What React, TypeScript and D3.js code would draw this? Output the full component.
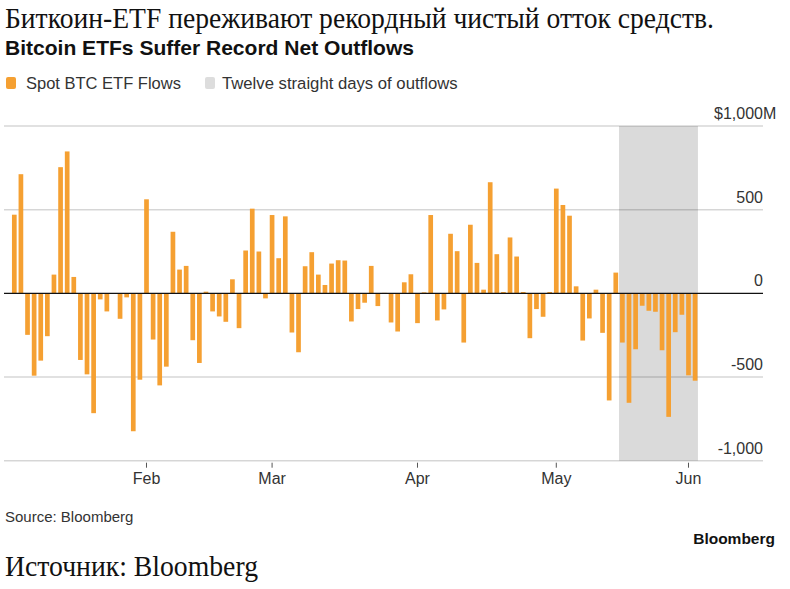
import React from "react";
import * as d3 from "d3";

// Daily net flows, $M (one bar per trading day)
const flows: number[] = [
  470, 712, -248, -492, -402, -256, 112, 754, 848, 98,
  -398, -484, -716, -36, -108, 0, -152, -24, -824, -516,
  562, -276, -550, -438, 368, 142, 164, -280, -416, 10,
  -108, -138, -170, 84, -208, 256, 506, 250, -30, 468,
  210, 460, -234, -352, 162, 246, 112, 50, 178, 198,
  196, -168, -94, -56, 164, -76, 3, -174, -228, 66,
  114, -178, 6, 468, -162, -96, 356, 252, -294, 410,
  182, 22, 664, 234, 8, 334, 220, 8, -268, -94,
  -140, 8, 626, 528, 464, 42, -282, -150, 22, -236,
  -640, 124, -294, -654, -334, -74, -104, -110, -340, -738,
  -232, -128, -490, -522,
];

// Month ticks: label + bar index of the first trading day
const monthLabels = ["Feb", "Mar", "Apr", "May", "Jun"];
const monthIndex = [20, 39, 61, 82, 102];

const yTicks = [1000, 500, 0, -500, -1000];
const yTickLabels = ["$1,000", "500", "0", "-500", "-1,000"];

// Twelve straight days of outflows (first and last bar index)
const streak = [92, 103];

const ORANGE = "#f5a032";
const BAND = "#dadada";
const SANS = "'Liberation Sans', Arial, Helvetica, sans-serif";
const SERIF = "'Liberation Serif', 'Times New Roman', serif";

export default function App() {
  const width = 790;
  const height = 589;

  const gridLeft = 4;
  const gridRight = 763;

  const x = d3
    .scaleBand<number>()
    .domain(d3.range(flows.length))
    .range([11, 698.4])
    .paddingInner(0.29)
    .paddingOuter(0.145);

  const y = d3.scaleLinear().domain([-1000, 1000]).range([460.7, 126]);

  const bw = x.bandwidth();
  const bandX0 = (x(streak[0]) as number) - 1;
  const bandX1 = (x(streak[1]) as number) + bw + 0.5;

  return (
    <svg
      width={width}
      height={height}
      style={{ position: "absolute", left: 0, top: 0, background: "#fff" }}
    >
      {/* headings */}
      <text
        x={5}
        y={28}
        fontFamily={SERIF}
        fontSize={29}
        fill="#111"
        textLength={709}
        lengthAdjust="spacingAndGlyphs"
      >
        Биткоин-ETF переживают рекордный чистый отток средств.
      </text>
      <text
        x={5}
        y={55}
        fontFamily={SANS}
        fontSize={21}
        fontWeight="bold"
        fill="#111"
        textLength={409}
        lengthAdjust="spacingAndGlyphs"
      >
        Bitcoin ETFs Suffer Record Net Outflows
      </text>

      {/* legend */}
      <rect x={6} y={77} width={10} height={12} rx={2} fill={ORANGE} />
      <text x={26} y={89} fontFamily={SANS} fontSize={16.5} fill="#333">
        Spot BTC ETF Flows
      </text>
      <rect x={205} y={77} width={10} height={12} rx={2} fill="#dddddd" />
      <text x={222} y={89} fontFamily={SANS} fontSize={16.7} fill="#333">
        Twelve straight days of outflows
      </text>

      {/* highlighted streak */}
      <rect x={bandX0} y={y(1000)} width={bandX1 - bandX0} height={y(-1000) - y(1000)} fill={BAND} />

      {/* gridlines */}
      {yTicks
        .filter((t) => t !== 0)
        .map((t) => (
          <line
            key={t}
            x1={gridLeft}
            x2={gridRight}
            y1={y(t)}
            y2={y(t)}
            stroke="rgba(0,0,0,0.16)"
            strokeWidth={1.5}
          />
        ))}

      {/* y labels */}
      {yTicks.map((t, i) => (
        <text
          key={t}
          x={gridRight}
          y={y(t) - 7}
          textAnchor="end"
          fontFamily={SANS}
          fontSize={16}
          fill="#333"
        >
          {yTickLabels[i]}
        </text>
      ))}
      <text x={gridRight} y={y(1000) - 7} fontFamily={SANS} fontSize={16} fill="#333">
        M
      </text>

      {/* bars */}
      {flows.map((v, i) => (
        <rect
          key={i}
          x={x(i)}
          y={y(Math.max(0, v))}
          width={bw}
          height={Math.abs(y(v) - y(0))}
          fill={ORANGE}
        />
      ))}

      {/* zero line */}
      <line x1={gridLeft} x2={gridRight} y1={y(0)} y2={y(0)} stroke="#111" strokeWidth={1.2} />

      {/* x ticks */}
      {monthIndex.map((idx, i) => {
        const cx = (x(idx) as number) + bw / 2;
        return (
          <g key={idx}>
            <line x1={cx} x2={cx} y1={y(-1000) + 2} y2={y(-1000) + 7} stroke="#555" strokeWidth={1} />
            <text x={cx} y={484} textAnchor="middle" fontFamily={SANS} fontSize={16} fill="#333">
              {monthLabels[i]}
            </text>
          </g>
        );
      })}

      {/* footer */}
      <text x={5} y={522} fontFamily={SANS} fontSize={15} fill="#333">
        Source: Bloomberg
      </text>
      <text
        x={775}
        y={544}
        textAnchor="end"
        fontFamily={SANS}
        fontSize={15.5}
        fontWeight="bold"
        fill="#111"
      >
        Bloomberg
      </text>
      <text
        x={5}
        y={576}
        fontFamily={SERIF}
        fontSize={29}
        fill="#111"
        textLength={253}
        lengthAdjust="spacingAndGlyphs"
      >
        Источник: Bloomberg
      </text>
    </svg>
  );
}
